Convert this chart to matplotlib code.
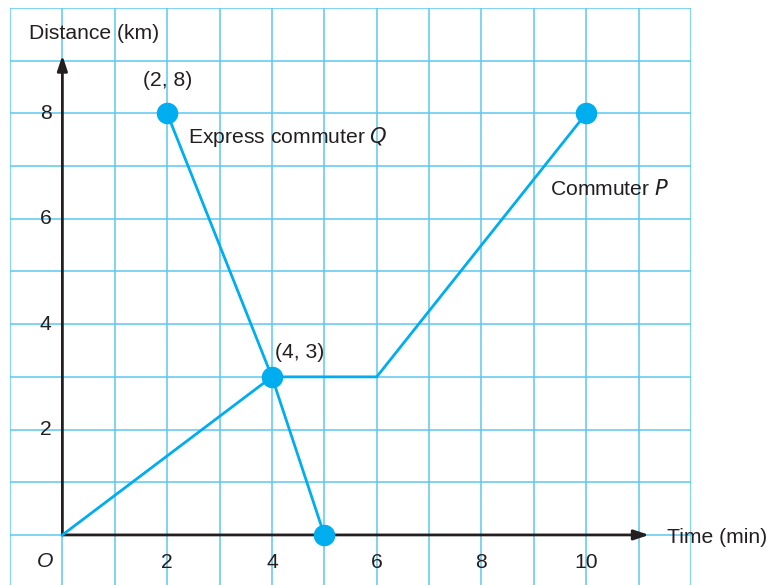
import matplotlib.pyplot as plt

# Commuter P and express commuter Q (time in min, distance in km)
p_time = [0, 4, 6, 10]
p_dist = [0, 3, 3, 8]
q_time = [2, 4, 5]
q_dist = [8, 3, 0]
dot_time = [2, 4, 5, 10]
dot_dist = [8, 3, 0, 8]
x_ticks = [2, 4, 6, 8, 10]
y_ticks = [2, 4, 6, 8]

plt.rcParams["font.family"] = ["Liberation Sans", "DejaVu Sans"]
ink = "#231f20"
blue = "#00aeef"
grid_blue = "#5cc8f0"

fig = plt.figure(figsize=(7.71, 5.85), dpi=100)
ax = fig.add_axes([10 / 771, 0, 681 / 771, 577 / 585])
ax.set_xlim(-1, 12)
ax.set_ylim(-0.95, 10)

for gx in range(-1, 13):
    ax.axvline(gx, color=grid_blue, lw=1.1, zorder=0)
for gy in range(-1, 11):
    ax.axhline(gy, color=grid_blue, lw=1.1, zorder=0)
for s in ax.spines.values():
    s.set_visible(False)
ax.set_xticks([])
ax.set_yticks([])

# axes arrows
ax.annotate("", xy=(11.2, 0), xytext=(0, 0),
            arrowprops=dict(arrowstyle="-|>,head_length=0.9,head_width=0.3",
                            color=ink, lw=2, shrinkA=0, shrinkB=0), zorder=3)
ax.annotate("", xy=(0, 9.1), xytext=(0, 0),
            arrowprops=dict(arrowstyle="-|>,head_length=0.9,head_width=0.3",
                            color=ink, lw=2, shrinkA=0, shrinkB=0), zorder=3)

ax.plot(p_time, p_dist, color=blue, lw=2, zorder=4)
ax.plot(q_time, q_dist, color=blue, lw=2, zorder=4)
ax.plot(dot_time, dot_dist, "o", color=blue, ms=14.5, zorder=5)

fs = 15.2
for t in x_ticks:
    ax.text(t, -0.53, str(t), ha="center", va="center", fontsize=fs, color=ink)
for d in y_ticks:
    ax.text(-0.32, d, str(d), ha="center", va="center", fontsize=fs, color=ink)
ax.text(-0.33, -0.5, "O", ha="center", va="center", fontsize=fs, color=ink, style="italic")

ax.text(0.6, 9.52, "Distance (km)", ha="center", va="center", fontsize=fs, color=ink)
ax.text(11.55, -0.05, "Time (min)", ha="left", va="center", fontsize=fs, color=ink)
ax.text(2, 8.63, "(2, 8)", ha="center", va="center", fontsize=fs, color=ink)
ax.text(4.05, 3.47, "(4, 3)", ha="left", va="center", fontsize=fs, color=ink)
ax.text(2.39, 7.55, "Express commuter $\\mathit{Q}$", ha="left", va="center", fontsize=fs, color=ink)
ax.text(9.31, 6.57, "Commuter $\\mathit{P}$", ha="left", va="center", fontsize=fs, color=ink)

fig.savefig("out.png", dpi=100)
